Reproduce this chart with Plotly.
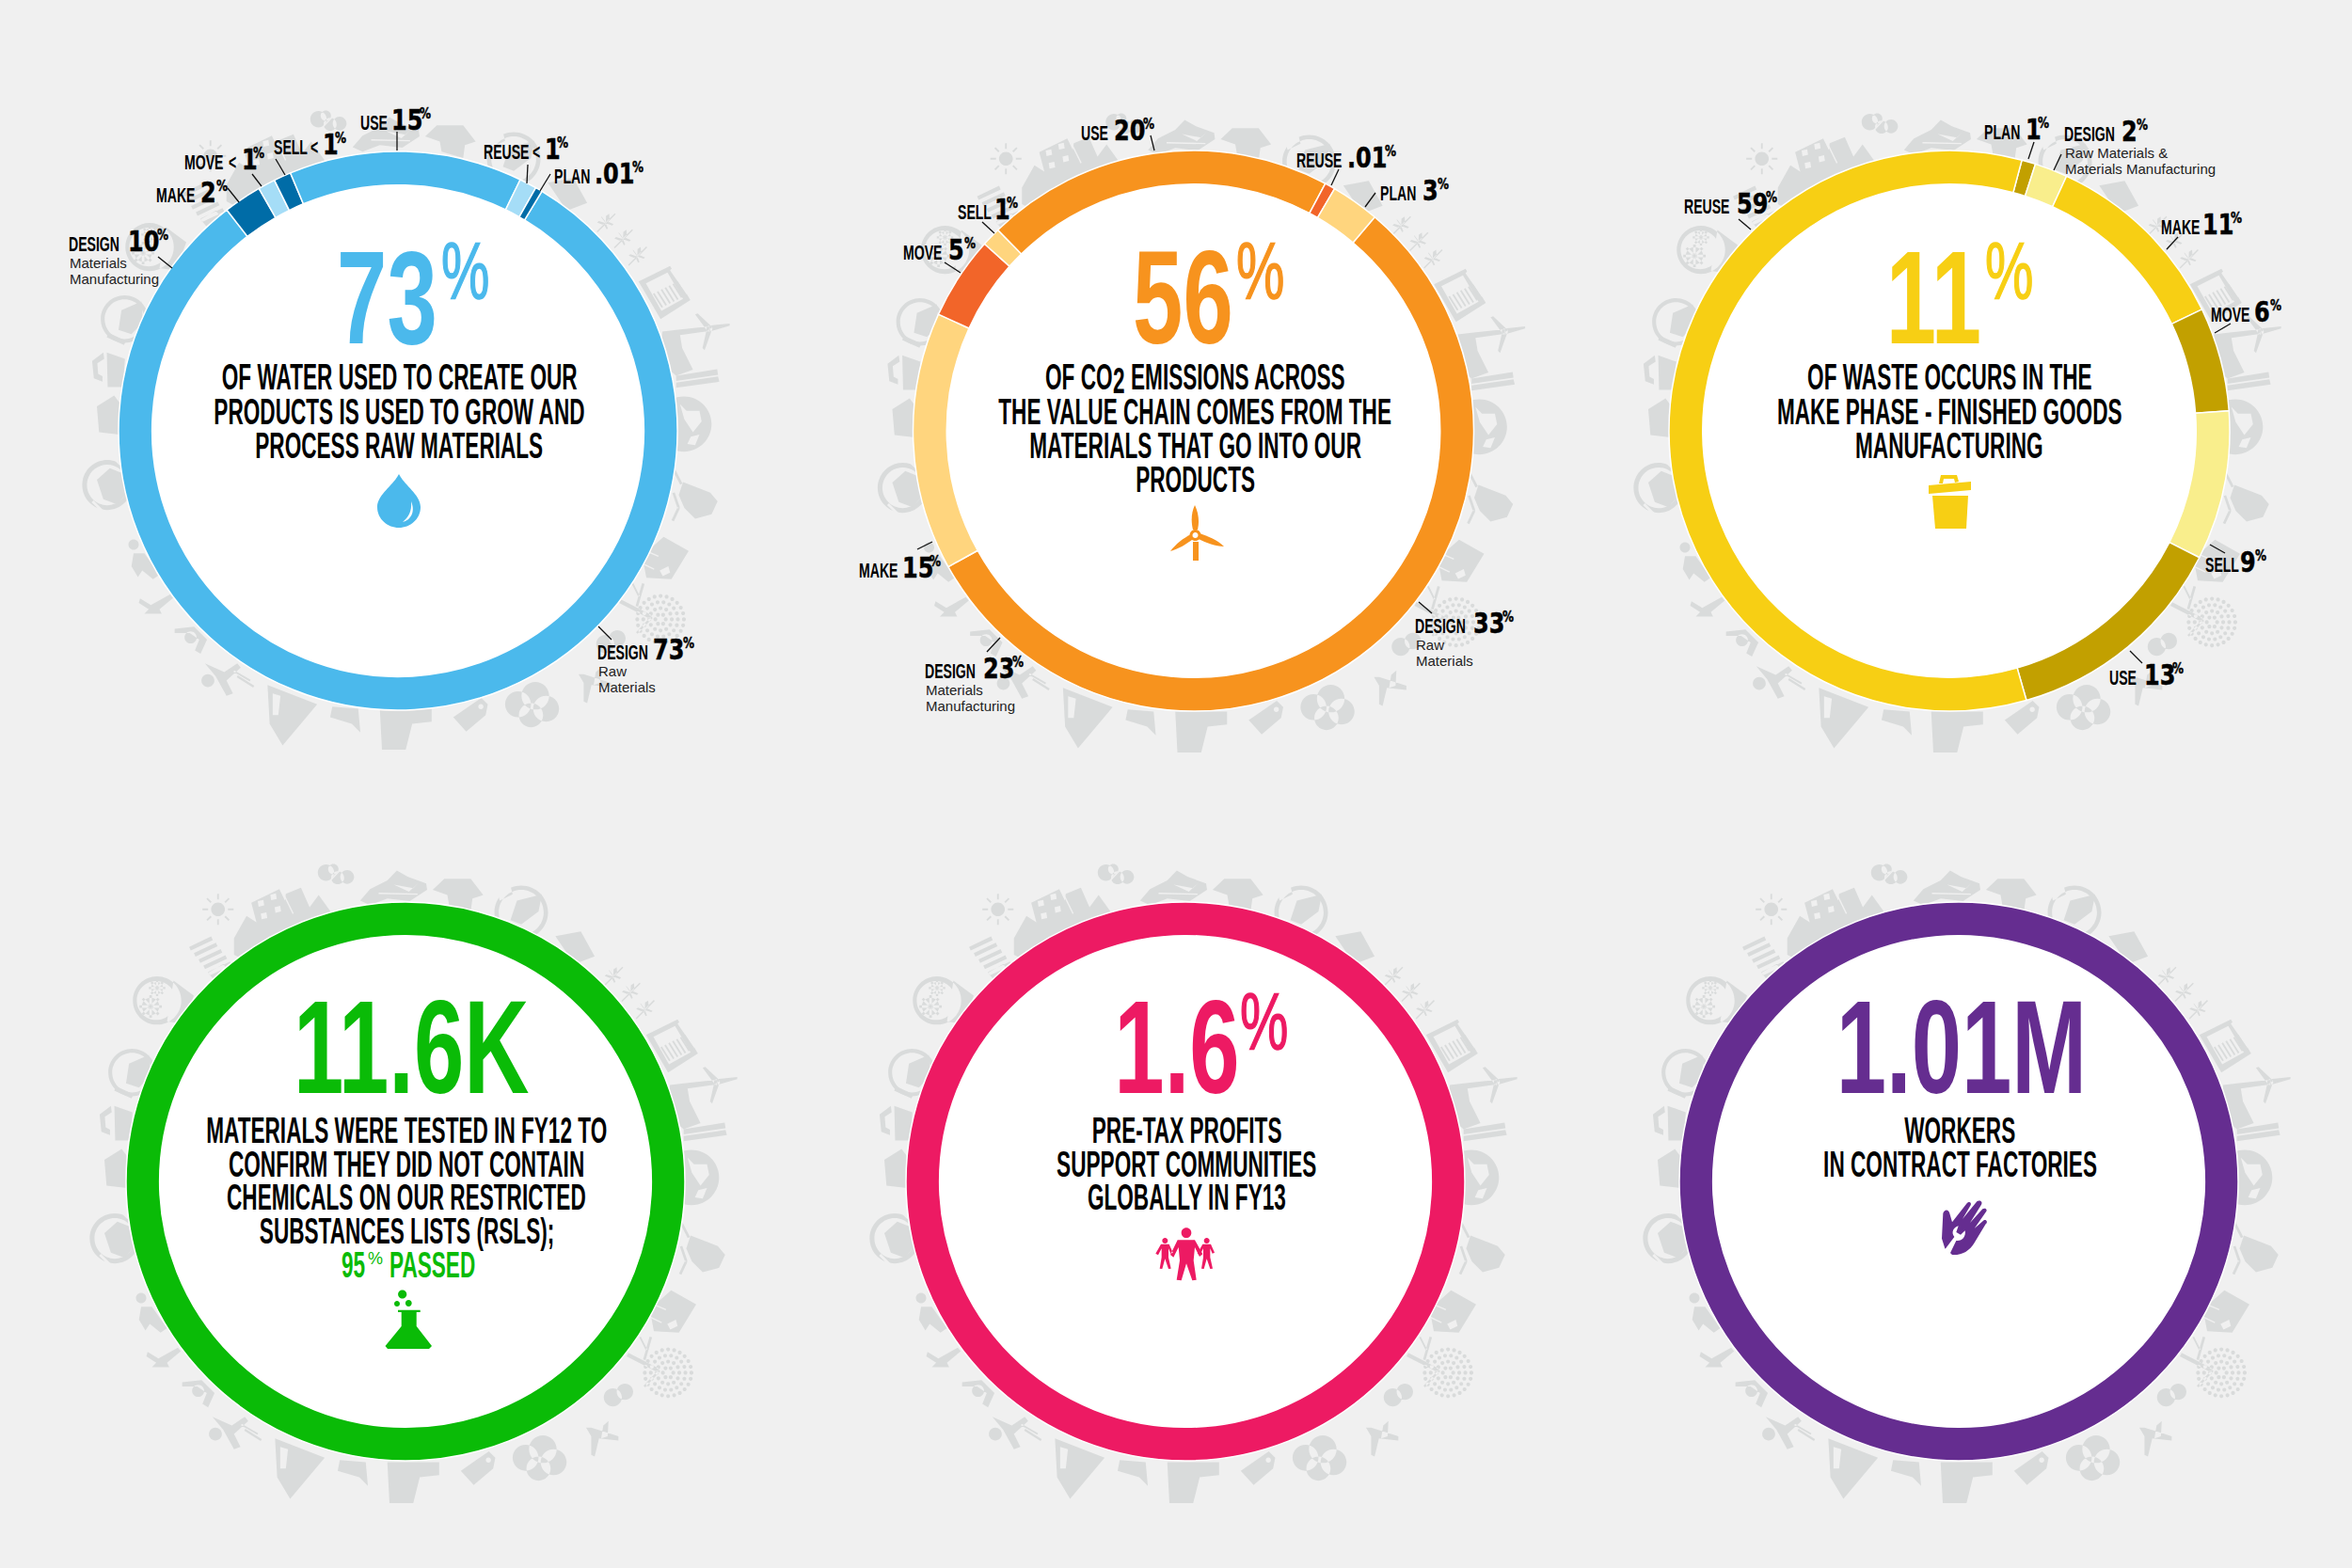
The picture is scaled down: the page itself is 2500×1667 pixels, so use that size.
import math
import re
import plotly.graph_objects as go

W, H = 2500, 1667
BG = "#F0F0F0"
ICON_GREY = "#D9DBDB"
CONDENSED = "Liberation Sans"
BLACK_FONT = "DejaVu Sans"
PLAIN = "Liberation Sans"

# ---- data ----
water_names = ["DESIGN", "DESIGN", "MAKE", "MOVE", "SELL", "USE", "REUSE", "PLAN"]
water_labels = ["73", "10", "2", "1", "1", "15", "1", ".01"]
water_less = ["", "", "", "<", "<", "", "<", ""]
water_notes = [["Raw", "Materials"], ["Materials", "Manufacturing"], [], [], [], [], [], []]
water_arcs = [70.2, 10.7, 2.2, 1.0, 1.0, 13.5, 1.0, 0.4]

co2_names = ["DESIGN", "DESIGN", "MAKE", "MOVE", "SELL", "USE", "REUSE", "PLAN"]
co2_labels = ["33", "23", "15", "5", "1", "20", ".01", "3"]
co2_less = ["", "", "", "", "", "", "", ""]
co2_notes = [["Raw", "Materials"], ["Materials", "Manufacturing"], [], [], [], [], [], []]
co2_arcs = [31.2, 24.6, 14.9, 4.8, 1.1, 20.1, 0.6, 2.8]

waste_names = ["PLAN", "DESIGN", "MAKE", "MOVE", "SELL", "USE", "REUSE"]
waste_labels = ["1", "2", "11", "6", "9", "13", "59"]
waste_less = ["", "", "", "", "", "", ""]
waste_notes = [[], ["Raw Materials &", "Materials Manufacturing"], [], [], [], [], []]
waste_arcs = [0.8, 1.9, 11.0, 6.0, 8.6, 13.1, 58.6]

tested_arcs = [100]
profits_arcs = [100]
workers_arcs = [100]

# ---- styles and placement ----
water_colors = ["#4BB9EC", "#4BB9EC", "#006CA7", "#A5DDF7", "#006CA7", "#4BB9EC", "#A5DDF7", "#006CA7"]
co2_colors = ["#F7931E", "#F7931E", "#FFD57E", "#F26529", "#FFD57E", "#F7931E", "#F26529", "#FFD57E"]
waste_colors = ["#C2A000", "#F9EE8C", "#F7CF14", "#C2A000", "#F9EE8C", "#C2A000", "#F7CF14"]

# name_x, value_x, pct_x, cap centre y of the name
water_pos = [(635, 694, 726, 693), (73, 136, 167, 259), (166, 213, 230, 207), (196, 257, 269, 172),
             (291, 343, 356, 156), (383, 416, 446, 130), (514, 579, 592, 161), (589, 632, 672, 187)]
water_less_x = [None, None, None, 243, 330, None, 566, None]
co2_pos = [(1504, 1566, 1597, 665), (983, 1045, 1076, 713), (913, 959, 988, 606), (960, 1008, 1025, 268),
           (1018, 1057, 1070, 225), (1149, 1184, 1215, 141), (1378, 1432, 1472, 170), (1467, 1512, 1528, 205)]
waste_pos = [(2109, 2153, 2166, 140), (2194, 2255, 2271, 142), (2297, 2341, 2371, 241), (2350, 2396, 2413, 334),
             (2344, 2381, 2397, 600), (2242, 2279, 2309, 720), (1790, 1846, 1877, 219)]

water_leaders = [(636, 666, 650, 680), (168, 273, 183, 285), (242, 200, 254, 215), (268, 185, 278, 198),
                 (293, 169, 303, 186), (422, 140, 422, 160), (561, 175, 560, 195), (585, 185, 574, 203)]
co2_leaders = [(1508, 640, 1522, 652), (1049, 693, 1063, 678), (975, 584, 991, 576), (1004, 279, 1021, 290),
               (1044, 236, 1057, 248), (1223, 144, 1227, 160), (1423, 180, 1415, 197), (1462, 205, 1451, 220)]
waste_leaders = [(2162, 151, 2156, 169), (2191, 164, 2183, 181), (2315, 252, 2303, 265), (2371, 344, 2354, 354),
                 (2349, 579, 2365, 588), (2264, 692, 2277, 705), (1848, 233, 1861, 244)]


def px(x, y):
    return x / W, 1 - y / H


def map_path(path, fn):
    def sub(m):
        a, b = fn(float(m[1]), float(m[2]))
        return "%.5f %.5f" % (a, b)
    return re.sub(r"(-?\d+\.?\d*)[ ,]+(-?\d+\.?\d*)", sub, path)


def circ(cx, cy, r):
    k = 0.5523 * r
    return (f"M{cx - r} {cy} C{cx - r} {cy - k} {cx - k} {cy - r} {cx} {cy - r} "
            f"C{cx + k} {cy - r} {cx + r} {cy - k} {cx + r} {cy} "
            f"C{cx + r} {cy + k} {cx + k} {cy + r} {cx} {cy + r} "
            f"C{cx - k} {cy + r} {cx - r} {cy + k} {cx - r} {cy} Z ")


def poly(*pts):
    return "M" + " L".join(f"{round(x, 1)} {round(y, 1)}" for x, y in pts) + " Z "


def bar(x0, y0, x1, y1, w):
    # straight band of width w between two points
    dx, dy = x1 - x0, y1 - y0
    n = math.hypot(dx, dy)
    ox, oy = -dy / n * w / 2, dx / n * w / 2
    return poly((x0 + ox, y0 + oy), (x1 + ox, y1 + oy), (x1 - ox, y1 - oy), (x0 - ox, y0 - oy))


# grey pictograms around the ring, drawn in the coordinates of one crop
# g = silhouettes, d = cut-outs in the background colour, t = grey details on top of the cut-outs
def icon_paths():
    g = ""
    d = ""
    t = ""
    # clouds
    g += circ(558, 60, 19) + circ(575, 52, 12) + circ(585, 72, 15) + circ(607, 70, 16)
    d += bar(568, 78, 595, 50, 3)
    # shoe
    g += poly((637, 125), (660, 98), (700, 78), (722, 55), (748, 70), (790, 85), (792, 100), (752, 126), (700, 120), (660, 135))
    d += poly((715, 88), (760, 96), (772, 84), (750, 104))
    d += bar(680, 108, 770, 110, 3)
    # t-shirt
    g += poly((805, 100), (832, 74), (893, 74), (922, 112), (897, 120), (893, 150), (843, 135), (839, 112))
    # leaf in a ring
    g += circ(1010, 152, 62) + circ(109, 523, 55)
    d += circ(1010, 152, 52) + circ(109, 523, 46)
    d += poly((955, 105), (985, 90), (990, 110), (960, 125))
    t += poly((985, 170), (1000, 125), (1058, 110), (1050, 150), (1010, 180))
    t += poly((95, 548), (102, 502), (148, 482), (152, 530), (125, 558))
    t += bar(70, 560, 110, 578, 11)
    # notebook
    g += poly((1089, 207), (1148, 196), (1180, 254), (1133, 272))
    # plants
    for cx, cy in [(1223, 301), (1263, 338), (1296, 378)]:
        g += bar(cx - 20, cy + 20, cx + 22, cy - 22, 3)
        for sx, sy in [(-10, -16), (8, -22), (18, 2), (-20, -2), (2, 14)]:
            g += poly((cx, cy), (cx + sx * 0.6 - 4, cy + sy * 0.6 - 4), (cx + sx, cy + sy), (cx + sx * 0.6 + 4, cy + sy * 0.6 + 4))
    # monitor with a spring
    g += poly((1299, 436), (1372, 400), (1419, 479), (1350, 523))
    d += poly((1316, 440), (1366, 415), (1402, 476), (1352, 504))
    d += poly((1372, 410), (1410, 465), (1425, 450), (1385, 395))
    for k in range(8):
        off = k * 9
        t += bar(1325 + off, 468 - off * 0.5, 1345 + off, 500 - off * 0.5, 4)
    # factory and wind turbine
    g += poly((1354, 552), (1386, 548), (1463, 540), (1465, 550), (1395, 560), (1400, 590), (1425, 640), (1386, 654), (1370, 640), (1350, 610))
    g += poly((1463, 538), (1510, 533), (1510, 538), (1463, 552)) + poly((1430, 512), (1436, 510), (1470, 542), (1458, 550))
    g += poly((1456, 550), (1468, 550), (1452, 595), (1447, 590))
    g += circ(1463, 545, 7)
    # pipes
    g += poly((1386, 654), (1481, 639), (1483, 652), (1386, 666))
    g += poly((1386, 670), (1483, 656), (1486, 668), (1386, 682))
    # globe
    g += circ(1404, 766, 64)
    d += poly((1395, 720), (1410, 735), (1440, 735), (1445, 760), (1425, 785), (1405, 755))
    d += poly((1420, 795), (1440, 790), (1430, 815), (1412, 812))
    # gear blob with waves
    g += poly((1402, 900), (1440, 915), (1465, 925), (1482, 945), (1468, 975), (1430, 985), (1405, 960), (1392, 930))
    g += bar(1380, 870, 1398, 905, 6) + bar(1380, 925, 1392, 960, 6) + bar(1392, 960, 1378, 990, 6)
    # box with discs
    g += poly((1320, 1060), (1357, 1027), (1415, 1060), (1375, 1125), (1317, 1122), (1310, 1085))
    d += poly((1348, 1105), (1368, 1095), (1372, 1110), (1355, 1118))
    d += bar(1322, 1062, 1345, 1072, 3) + bar(1310, 1090, 1335, 1102, 3)
    # tree
    g += bar(1256, 1176, 1328, 1213, 9) + bar(1295, 1188, 1310, 1135, 6) + bar(1300, 1165, 1285, 1135, 4)
    g += bar(1330, 1213, 1295, 1250, 5)
    for ring_r, count in [(12, 6), (26, 12), (40, 18), (54, 24)]:
        for k in range(count):
            a = 2 * math.pi * k / count
            g += circ(round(1350 + ring_r * math.cos(a), 1), round(1218 + ring_r * math.sin(a), 1), 4.5)
    # small clouds
    g += circ(1250, 1262, 19) + circ(1222, 1275, 21)
    # plane
    g += poly((1160, 1345), (1172, 1345), (1235, 1365), (1235, 1375), (1190, 1370), (1180, 1412), (1172, 1408), (1172, 1365))
    g += poly((1200, 1340), (1212, 1330), (1210, 1365), (1195, 1370))
    # big cloud
    g += circ(1020, 1415, 30) + circ(1060, 1395, 32) + circ(1085, 1425, 30) + circ(1050, 1440, 28)
    # tag
    g += poly((870, 1445), (935, 1400), (950, 1415), (945, 1440), (900, 1478))
    d += circ(934, 1420, 6)
    # trousers
    g += poly((700, 1425), (820, 1425), (820, 1455), (775, 1460), (760, 1520), (705, 1520))
    # map shape
    g += poly((590, 1420), (650, 1425), (655, 1480), (635, 1460), (585, 1445))
    # arrow building
    g += poly((440, 1370), (555, 1415), (475, 1510), (445, 1460))
    d += poly((452, 1390), (470, 1395), (465, 1440), (452, 1440))
    # people
    g += circ(302, 1360, 15) + poly((295, 1320), (340, 1340), (370, 1320), (378, 1330), (345, 1360), (360, 1390), (345, 1395), (320, 1350))
    g += bar(370, 1350, 408, 1374, 5) + bar(362, 1338, 400, 1360, 4)
    g += circ(262, 1260, 14) + poly((225, 1240), (270, 1235), (300, 1265), (285, 1298), (272, 1290), (282, 1265), (260, 1250), (225, 1250))
    g += poly((145, 1170), (170, 1185), (215, 1160), (222, 1168), (190, 1195), (195, 1205), (155, 1205), (165, 1195), (142, 1180))
    g += circ(130, 1045, 12) + poly((130, 1065), (155, 1065), (190, 1115), (175, 1125), (150, 1105), (140, 1120), (125, 1095))
    # recycling ring
    g += circ(69, 907, 58)
    d += circ(69, 907, 47) + bar(35, 945, 60, 970, 6) + bar(80, 840, 100, 860, 6)
    t += poly((45, 895), (75, 868), (105, 880), (115, 925), (92, 952), (60, 940))
    # blob and bucket
    g += poly((45, 725), (85, 700), (100, 720), (97, 790), (50, 785))
    g += poly((68, 600), (110, 615), (105, 680), (70, 680))
    g += poly((60, 600), (62, 615), (46, 625), (48, 650), (58, 655), (58, 668), (38, 660), (34, 620))
    # gears in an oval
    g += circ(167, 356, 56) + poly((205, 310), (252, 345), (228, 410), (190, 405))
    d += circ(165, 356, 45)
    t += circ(167, 327, 14) + circ(152, 370, 20)
    for k in range(8):
        a = k * math.pi / 4
        t += bar(167, 327, 167 + 19 * math.cos(a), 327 + 19 * math.sin(a), 5)
        t += bar(152, 370, 152 + 26 * math.cos(a), 370 + 26 * math.sin(a), 6)
    # ribbed stack
    for k in range(5):
        g += bar(243 + 11 * k, 236 + 14.5 * k, 294 + 11 * k, 212 + 14.5 * k, 9)
    g += poly((285, 292), (320, 272), (335, 290), (300, 310))
    # houses
    g += poly((345, 212), (374, 160), (397, 175), (385, 130), (450, 98), (463, 125), (465, 109), (500, 95), (520, 140),
              (541, 112), (572, 155), (360, 258), (345, 250))
    for wx, wy in [(407, 131), (436, 116), (414, 160), (446, 145)]:
        d += poly((wx - 7, wy - 5), (wx + 6, wy - 8), (wx + 8, wy + 5), (wx - 5, wy + 8))
    d += bar(458, 106, 482, 155, 3)
    # sun
    g += circ(308, 145, 16)
    for k in range(8):
        a = k * math.pi / 4
        g += bar(308 + 23 * math.cos(a), 145 + 23 * math.sin(a), 308 + 36 * math.cos(a), 145 + 36 * math.sin(a), 4)
    return g, d, t


ICON_G, ICON_D, ICON_T = icon_paths()

shapes = []
annotations = []
traces = []


def paper_path(path):
    return map_path(path, lambda x, y: px(x, y))


def add_path(path, color, layer="above"):
    shapes.append(dict(type="path", xref="paper", yref="paper", path=paper_path(path), fillcolor=color,
                       line=dict(width=0), layer=layer))


def add_text(x, y, text, size, family=CONDENSED, color="#000000", anchor="center", bold=True):
    # y is the centre of the capitals
    xp, yp = px(x, y + 0.01 * size)
    annotations.append(dict(x=xp, y=yp, xref="paper", yref="paper", text=f"<b>{text}</b>" if bold else text,
                            showarrow=False, xanchor=anchor, yanchor="middle", align=anchor,
                            font=dict(family=family, size=size, color=color), borderpad=0, borderwidth=0))


def add_ring(cx, cy, r_out, arcs, colors, rotation, names, icons_dy=0):
    x0, y0 = px(cx - r_out, cy + r_out)
    x1, y1 = px(cx + r_out, cy - r_out)

    def to_chart(x, y):
        return px(cx + (x - 742) / 2.178, cy + icons_dy + (y - 775) / 2.178)

    # grey pictograms behind, then a white disc
    for path, color in [(ICON_G, ICON_GREY), (ICON_D, BG), (ICON_T, ICON_GREY)]:
        shapes.append(dict(type="path", xref="paper", yref="paper", path=map_path(path, to_chart),
                           fillcolor=color, line=dict(width=0), layer="below"))
    shapes.append(dict(type="circle", xref="paper", yref="paper", x0=x0, y0=y0, x1=x1, y1=y1,
                       fillcolor="white", line=dict(width=0), layer="below"))
    traces.append(go.Pie(values=arcs, labels=names, sort=False, direction="clockwise", rotation=rotation,
                         hole=0.88, domain=dict(x=[x0, x1], y=[y0, y1]), textinfo="none",
                         hoverinfo="skip", showlegend=False,
                         marker=dict(colors=colors, line=dict(color="white", width=1.5))))


def add_callouts(names, labels, less, notes, pos, less_x, leaders):
    for i, name in enumerate(names):
        nx, vx, pct_x, y = pos[i]
        base = y + 8
        add_text(nx, y, name, 22, anchor="left")
        add_text(vx, base - 11, labels[i], 30, family=BLACK_FONT, anchor="left")
        add_text(pct_x, base - 17, "%", 15, family=BLACK_FONT, anchor="left")
        if less[i]:
            add_text(less_x[i], y, less[i], 22, anchor="left")
        for k, note in enumerate(notes[i]):
            add_text(nx + 1, y + 20 + 17 * k, note, 15, family=PLAIN, color="#222222", anchor="left", bold=False)
        x0, y0, x1, y1 = leaders[i]
        a = px(x0, y0)
        b = px(x1, y1)
        shapes.append(dict(type="line", xref="paper", yref="paper", x0=a[0], y0=a[1], x1=b[0], y1=b[1],
                           line=dict(color="#111111", width=1.3), layer="above"))


# ---- rings ----
add_ring(423, 458, 297, water_arcs, water_colors, 31, water_names, icons_dy=-3)
add_ring(1268.5, 458, 298, co2_arcs, co2_colors, 40.3, co2_names)
add_ring(2072, 458, 298, waste_arcs, waste_colors, 15, waste_names)
add_ring(431, 1256, 297, tested_arcs, ["#0ABB07"], 0, ["tested"])
add_ring(1260, 1256, 297, profits_arcs, ["#ED1A63"], 0, ["profits"])
add_ring(2082, 1256, 297, workers_arcs, ["#652D90"], 0, ["workers"])

add_callouts(water_names, water_labels, water_less, water_notes, water_pos, water_less_x, water_leaders)
add_callouts(co2_names, co2_labels, co2_less, co2_notes, co2_pos, [None] * 8, co2_leaders)
add_callouts(waste_names, waste_labels, waste_less, waste_notes, waste_pos, [None] * 7, waste_leaders)

# ---- big numbers and captions ----
BLUE, ORANGE, YELLOW, GREEN, PINK, PURPLE = "#4BB9EC", "#F7931E", "#F7CF14", "#0ABB07", "#ED1A63", "#652D90"
ROW1_NUM, ROW2_NUM = 314.5, 1112
add_text(411, ROW1_NUM, "73", 141, color=BLUE)
add_text(469, 288, "%", 85, color=BLUE, anchor="left", bold=False)
add_text(1257, ROW1_NUM, "56", 141, color=ORANGE)
add_text(1314, 288, "%", 85, color=ORANGE, anchor="left", bold=False)
add_text(2055.5, ROW1_NUM, "11", 141, color=YELLOW)
add_text(2110, 288, "%", 85, color=YELLOW, anchor="left", bold=False)
add_text(437, ROW2_NUM, "11.6K", 141, color=GREEN)
add_text(1250.5, ROW2_NUM, "1.6", 141, color=PINK)
add_text(1318, 1086, "%", 85, color=PINK, anchor="left", bold=False)
add_text(2084.5, ROW2_NUM, "1.01M", 141, color=PURPLE)

ROW1_LINES = [401, 438, 474, 510]
ROW2_LINES = [1202, 1238, 1273, 1309, 1345]
for line, y in zip(["OF WATER USED TO CREATE OUR", "PRODUCTS IS USED TO GROW AND", "PROCESS RAW MATERIALS"], ROW1_LINES):
    add_text(424, y, line, 38)
add_text(1111, ROW1_LINES[0], "OF CO", 38, anchor="left")
add_text(1183, ROW1_LINES[0] + 4, "2", 38, anchor="left")
add_text(1202, ROW1_LINES[0], "EMISSIONS ACROSS", 38, anchor="left")
for line, y in zip(["THE VALUE CHAIN COMES FROM THE", "MATERIALS THAT GO INTO OUR", "PRODUCTS"], ROW1_LINES[1:]):
    add_text(1270, y, line, 38)
for line, y in zip(["OF WASTE OCCURS IN THE", "MAKE PHASE - FINISHED GOODS", "MANUFACTURING"], ROW1_LINES):
    add_text(2072, y, line, 38)
for line, y in zip(["MATERIALS WERE TESTED IN FY12 TO", "CONFIRM THEY DID NOT CONTAIN", "CHEMICALS ON OUR RESTRICTED",
                    "SUBSTANCES LISTS (RSLS);"], ROW2_LINES):
    add_text(432, y, line, 38)
add_text(363, ROW2_LINES[4], "95", 38, color=GREEN, anchor="left")
add_text(391, ROW2_LINES[4] - 7, "%", 18, color=GREEN, anchor="left", bold=False)
add_text(414, ROW2_LINES[4], "PASSED", 38, color=GREEN, anchor="left")
for line, y in zip(["PRE-TAX PROFITS", "SUPPORT COMMUNITIES", "GLOBALLY IN FY13"], ROW2_LINES):
    add_text(1261, y, line, 38)
for line, y in zip(["WORKERS", "IN CONTRACT FACTORIES"], ROW2_LINES):
    add_text(2083, y, line, 38)

# ---- small centre icons ----
# water drop
add_path("M424 504 C430 516 447 526 447 539 C447 552 436 561 424 561 C412 561 401 552 401 539 C401 526 418 516 424 504 Z", BLUE)
add_path("M437 533 C442 545 436 553 428 555 C434 550 438 544 437 533 Z", "white")
# wind turbine
add_path("M1270 537 C1266 545 1266 555 1268 563 L1273 563 C1275 555 1274 545 1270 537 Z", ORANGE)
add_path("M1244 586 C1250 578 1258 572 1266 568 L1268 573 C1262 578 1252 584 1244 586 Z", ORANGE)
add_path("M1301 581 C1294 574 1284 570 1275 567 L1274 573 C1282 577 1292 581 1301 581 Z", ORANGE)
add_path(poly((1268, 576), (1274, 576), (1274, 596), (1268, 596)), ORANGE)
add_path(circ(1270.5, 569, 6), ORANGE)
add_path(circ(1270.5, 569, 3), "white")
# bin
add_path(poly((2061, 514), (2063, 505), (2080, 505), (2082, 512), (2078, 513), (2077, 509), (2066, 509), (2065, 514)), YELLOW)
add_path(poly((2050, 516), (2095, 512), (2095, 521), (2050, 525)), YELLOW)
add_path(poly((2054, 527), (2092, 527), (2090, 562), (2057, 562)), YELLOW)
# flask
add_path(circ(427.7, 1376, 4.6) + circ(422, 1386, 3) + circ(434.3, 1385.5, 3.4), GREEN)
add_path(poly((423, 1392.7), (446.7, 1392.7), (446.7, 1395), (442.7, 1395), (442.7, 1410), (459, 1431), (456, 1434), (412, 1434), (409.5, 1431), (426.7, 1410), (426.7, 1395), (423, 1395)), GREEN)


# people
def zoom_people(x, y):
    return 1220 + x / 3, 1290 + y / 3


big_man = [(95, 85), (150, 85), (175, 130), (165, 138), (150, 108), (146, 150), (155, 212), (142, 214), (123, 160),
           (107, 214), (92, 212), (102, 150), (98, 108), (82, 140), (72, 132)]
small_man = [(42, 98), (68, 98), (80, 125), (73, 128), (66, 112), (66, 140), (74, 176), (66, 177), (55, 145),
             (46, 177), (38, 176), (44, 140), (44, 112), (33, 133), (25, 128)]
add_path(map_path(circ(123, 62, 16) + poly(*big_man) + circ(55, 87, 9) + poly(*small_man), zoom_people), PINK)
add_path(map_path(circ(188, 87, 9) + poly(*[(x + 133, y) for x, y in small_man]), zoom_people), PINK)


# hand with spanner
def zoom_hand(x, y):
    return 1960 + x / 3, 1260 + y / 3


add_path(map_path("M312 170 L316 90 C320 76 334 76 337 90 L345 118 L392 58 C398 50 408 54 404 64 L378 108 L424 52 "
                  "C432 46 444 52 438 62 L402 120 L442 76 C450 70 460 78 452 86 L416 138 L446 112 C454 108 460 118 452 124 "
                  "L415 185 C400 210 375 224 345 222 L338 215 L322 202 Z", zoom_hand), PURPLE)
add_path(map_path("M322 205 L352 165 C340 150 350 135 365 130 L358 150 L372 158 L386 145 C390 165 375 180 358 177 L338 218 Z", zoom_hand), "white")

fig = go.Figure(traces)
fig.update_layout(width=W, height=H, margin=dict(l=0, r=0, t=0, b=0), paper_bgcolor=BG, plot_bgcolor=BG,
                  shapes=shapes, annotations=annotations, showlegend=False)

# the reference lettering is tighter than any installed face, so squeeze it sideways
squeeze = """
document.body.style.margin = '0';
document.querySelectorAll('.annotation-text').forEach(function (t) {
  var fam = t.style.fontFamily || '';
  var size = parseFloat(t.style.fontSize);
  var s = 1;
  if (fam.indexOf('DejaVu') >= 0) { s = 0.8; t.style.stroke = t.style.fill; t.style.strokeWidth = '0.5px'; }
  else if (size >= 100) { s = 0.68; }
  else if (size >= 80) { s = 0.68; t.style.stroke = t.style.fill; t.style.strokeWidth = '1.5px'; }
  else if (size >= 30) { s = 0.595; }
  else if (size >= 20) { s = 0.64; }
  if (s < 1) {
    var ax = parseFloat(t.getAttribute('x')) || 0;
    t.setAttribute('transform', 'translate(' + ax + ',0) scale(' + s + ',1) translate(' + (-ax) + ',0)');
  }
});
"""
fig.write_html("out.html", config=dict(displayModeBar=False), post_script=squeeze)
